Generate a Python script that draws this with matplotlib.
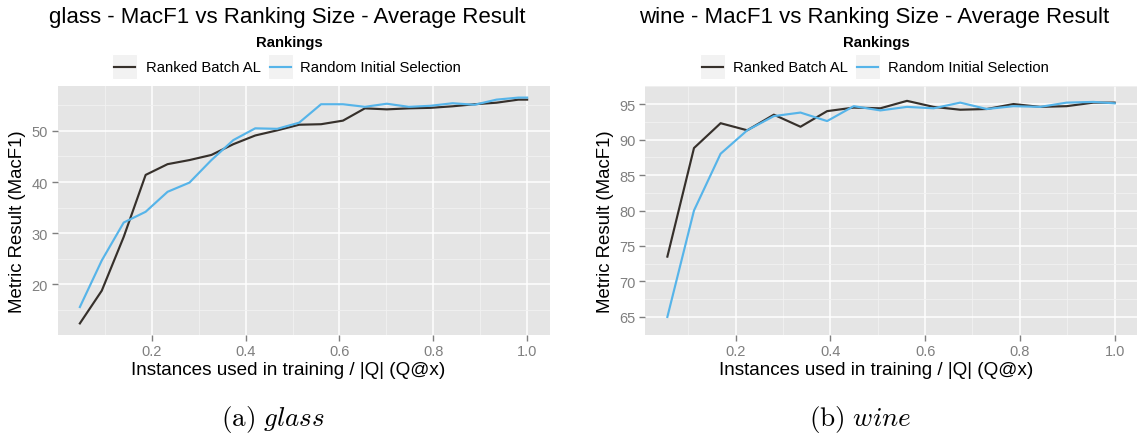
import numpy as np
import matplotlib
matplotlib.use("Agg")
import matplotlib.pyplot as plt
from matplotlib.patches import Rectangle
from matplotlib.lines import Line2D

plt.rcParams['font.family'] = ['Liberation Sans', 'DejaVu Sans']
plt.rcParams['mathtext.fontset'] = 'cm'

# --- data ---
glass_x = [k / 214 for k in list(range(10, 220, 10)) + [214]]
glass_ranked = [12.4, 18.8, 29.3, 41.4, 43.5, 44.3, 45.3, 47.4, 49.1, 50.1, 51.2,
                51.3, 52.0, 54.4, 54.2, 54.4, 54.5, 54.8, 55.2, 55.5, 56.1, 56.1]
glass_random = [15.6, 24.7, 32.1, 34.2, 38.1, 39.9, 44.3, 48.2, 50.5, 50.4, 51.6,
                55.2, 55.2, 54.7, 55.3, 54.7, 54.9, 55.4, 55.1, 56.1, 56.5, 56.5]

wine_x = [k / 178 for k in list(range(10, 180, 10)) + [178]]
wine_ranked = [73.5, 88.8, 92.3, 91.3, 93.5, 91.8, 94.0, 94.5, 94.4, 95.45,
               94.6, 94.2, 94.3, 95.0, 94.6, 94.7, 95.2, 95.2]
wine_random = [65.0, 80.0, 88.0, 91.3, 93.3, 93.8, 92.6, 94.7, 94.1, 94.6,
               94.4, 95.2, 94.3, 94.7, 94.6, 95.2, 95.3, 95.1]

series_names = ["Ranked Batch AL", "Random Initial Selection"]
series_colors = ["#36302b", "#56B4E9"]

glass_yticks = [20, 30, 40, 50]
wine_yticks = [65, 70, 75, 80, 85, 90, 95]
xticks = [0.2, 0.4, 0.6, 0.8, 1.0]

W, H = 1137, 435
fig = plt.figure(figsize=(W / 100, H / 100), dpi=100)


def fx(x):
    return x / W


def fy(y):
    return 1 - y / H


def expand(vals):
    lo, hi = min(vals), max(vals)
    d = (hi - lo) * 0.05
    return lo - d, hi + d


def panel(left, name, xs, ys_list, yticks, caption):
    ax = fig.add_axes([fx(left), fy(335.7), fx(492), 248.4 / H])
    ax.set_facecolor("#E5E5E5")
    for s in ax.spines.values():
        s.set_visible(False)
    for ys, c in zip(ys_list, series_colors):
        ax.plot(xs, ys, color=c, lw=1.55, zorder=3)
    ax.set_xlim(*expand(xs))
    ax.set_ylim(*expand([v for ys in ys_list for v in ys]))
    ax.set_xticks(xticks)
    ax.set_xticklabels([f"{t:.1f}" for t in xticks])
    ax.set_yticks(yticks)
    step = yticks[1] - yticks[0]
    ax.set_yticks([t + step / 2 for t in [yticks[0] - step] + yticks], minor=True)
    ax.set_xticks([0.1, 0.3, 0.5, 0.7, 0.9], minor=True)
    ax.grid(which="major", color="white", lw=1.1)
    ax.grid(which="minor", color="#F2F2F2", lw=0.6)
    ax.set_axisbelow(True)
    ax.tick_params(which="major", colors="#7F7F7F", labelsize=10.5, length=4,
                   width=1, pad=3)
    ax.tick_params(which="minor", length=0)

    off = left - 57.5
    # axis titles
    fig.text(fx(17.5 + off), fy(221.5), "Metric Result (MacF1)", fontsize=13.4,
             rotation=90, ha="center", va="center")
    fig.text(fx(288.5 + off), fy(371), "Instances used in training / |Q| (Q@x)",
             fontsize=13.6, ha="center", va="center")

    fig.text(fx(287 + off), fy(17), f"{name} - MacF1 vs Ranking Size - Average Result",
             fontsize=16, ha="center", va="center")
    fig.text(fx(289 + off), fy(43), "Rankings", fontsize=10.7, weight="bold",
             ha="center", va="center")
    for kx, tx, nm, c in zip([112.3, 267.7], [145.7, 300.5], series_names, series_colors):
        fig.add_artist(Rectangle((fx(kx + off), fy(80.3)), fx(25), 25 / H,
                                 facecolor="#F2F2F2", edgecolor="white", lw=0.8,
                                 transform=fig.transFigure))
        fig.add_artist(Line2D([fx(kx + off + 2), fx(kx + off + 23)], [fy(68), fy(68)],
                              color=c, lw=1.55, transform=fig.transFigure))
        fig.text(fx(tx + off), fy(68.5), nm, fontsize=10.7, ha="left", va="center")
    fig.text(fx(273 + off), fy(420), caption, fontsize=19.5, ha="center", va="center")
    return ax


panel(57.5, "glass", glass_x, [glass_ranked, glass_random], glass_yticks,
      r"$\mathrm{(a)}\ \mathit{glass}$")
panel(645, "wine", wine_x, [wine_ranked, wine_random], wine_yticks,
      r"$\mathrm{(b)}\ \mathit{wine}$")

fig.savefig("out.png", dpi=100)
